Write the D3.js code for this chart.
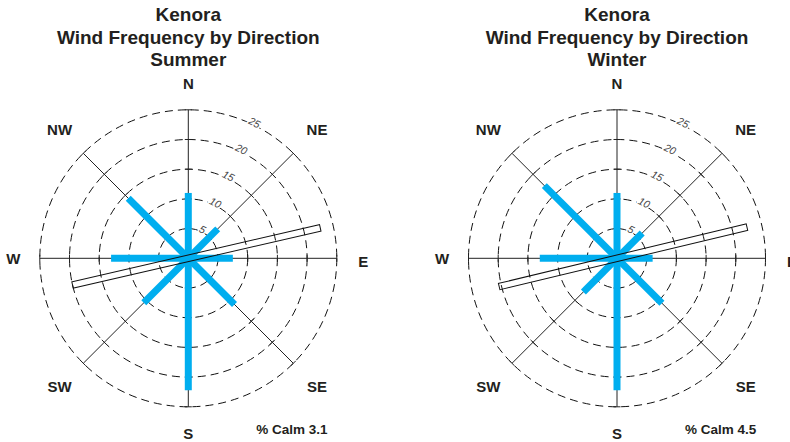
<!DOCTYPE html>
<html>
<head>
<meta charset="utf-8">
<script src="https://cdn.jsdelivr.net/npm/d3@7"></script>
<style>
  body { margin: 0; background: #fff; }
  svg { display: block; font-family: "Liberation Sans", Arial, sans-serif; }
</style>
</head>
<body>
<div id="chart"></div>
<script>
// Wind rose data (percent frequency by direction)
const directions = ["N", "NE", "E", "SE", "S", "SW", "W", "NW"];
const summerFreq = [11, 7, 7.5, 11, 22.2, 10.6, 13, 14.3];
const winterFreq = [11, 6, 6, 10.7, 22.2, 8, 13, 17.3];
const ringTicks = [5, 10, 15, 20, 25];
const seasons = ["Summer", "Winter"];
const calmPct = [3.1, 4.5];
// odd outlined band through the centre: [bearing, back length, front length]
const summerBand = [77, 20, 22.8];
const winterBand = [76.5, 20.4, 22.5];

const width = 790, height = 442;
const radius = 148.5;
const blue = "#00aeef";
const ink = "#231f20";

const svg = d3.select("#chart")
  .append("svg")
  .attr("width", width)
  .attr("height", height);

const r = d3.scaleLinear().domain([0, 25]).range([0, radius]);
const angle = d3.scalePoint().domain(directions).range([0, 315]);

// bearing in degrees (0 = north, clockwise) -> x,y
function polar(bearing, dist) {
  const a = (bearing - 90) * Math.PI / 180;
  return [dist * Math.cos(a), dist * Math.sin(a)];
}

function drawRose(cx, cy, season, values, calm, band) {
  const g = svg.append("g").attr("transform", `translate(${cx},${cy})`);

  // titles
  const titles = ["Kenora", "Wind Frequency by Direction", season];
  titles.forEach((t, i) => {
    g.append("text")
      .attr("x", 0)
      .attr("y", 21 + i * 22.5 - cy)
      .attr("text-anchor", "middle")
      .attr("font-size", 19)
      .attr("font-weight", "bold")
      .attr("fill", ink)
      .text(t);
  });

  // dashed rings
  g.selectAll("circle.ring")
    .data(ringTicks)
    .join("circle")
    .attr("class", "ring")
    .attr("r", d => r(d))
    .attr("fill", "none")
    .attr("stroke", "#111")
    .attr("stroke-width", 1)
    .attr("stroke-dasharray", "8,5");

  // axes
  directions.forEach(dir => {
    const b = angle(dir);
    const [x2, y2] = polar(b, r(25));
    g.append("line")
      .attr("x1", 0).attr("y1", 0)
      .attr("x2", x2).attr("y2", y2)
      .attr("stroke", "#222")
      .attr("stroke-width", 1);
    ringTicks.forEach(t => {
      const [px, py] = polar(b, r(t));
      const [ox, oy] = polar(b + 90, 3.5);
      g.append("line")
        .attr("x1", px - ox).attr("y1", py - oy)
        .attr("x2", px + ox).attr("y2", py + oy)
        .attr("stroke", "#222")
        .attr("stroke-width", 1);
    });
  });

  // ring labels
  ringTicks.forEach(t => {
    const [lx, ly] = polar(26, r(t) + 2.5);
    g.append("text")
      .attr("transform", `translate(${lx},${ly}) rotate(26)`)
      .attr("text-anchor", "middle")
      .attr("dy", "0.35em")
      .attr("font-size", 10.5)
      .attr("font-style", "italic")
      .attr("fill", "#444")
      .attr("stroke", "#fff")
      .attr("stroke-width", 3)
      .attr("paint-order", "stroke")
      .text(t);
  });

  // frequency bars
  g.selectAll("line.bar")
    .data(values)
    .join("line")
    .attr("class", "bar")
    .attr("x1", 0).attr("y1", 0)
    .attr("x2", (d, i) => polar(angle(directions[i]), r(d))[0])
    .attr("y2", (d, i) => polar(angle(directions[i]), r(d))[1])
    .attr("stroke", blue)
    .attr("stroke-width", 7);

  // outlined band
  g.append("rect")
    .attr("x", -r(band[1]))
    .attr("y", -3.25)
    .attr("width", r(band[1]) + r(band[2]))
    .attr("height", 6.5)
    .attr("transform", `rotate(${band[0] - 90})`)
    .attr("fill", "none")
    .attr("stroke", "#111")
    .attr("stroke-width", 1);

  // compass labels
  directions.forEach(dir => {
    const b = angle(dir);
    const dist = dir.length === 1 ? 175 : 182;
    const [lx, ly] = polar(b, dist);
    g.append("text")
      .attr("x", lx)
      .attr("y", ly + (dir === "E" ? 3 : 0))
      .attr("dy", "0.36em")
      .attr("text-anchor", "middle")
      .attr("font-size", 15)
      .attr("font-weight", "bold")
      .attr("fill", ink)
      .text(dir);
  });

  // calm
  g.append("text")
    .attr("x", 68)
    .attr("y", 434 - cy)
    .attr("font-size", 13.5)
    .attr("font-weight", "bold")
    .attr("fill", ink)
    .text(`% Calm ${calm}`);
}

drawRose(188.3, 258.3, seasons[0], summerFreq, calmPct[0], summerBand);
drawRose(617, 258.3, seasons[1], winterFreq, calmPct[1], winterBand);
</script>
</body>
</html>
